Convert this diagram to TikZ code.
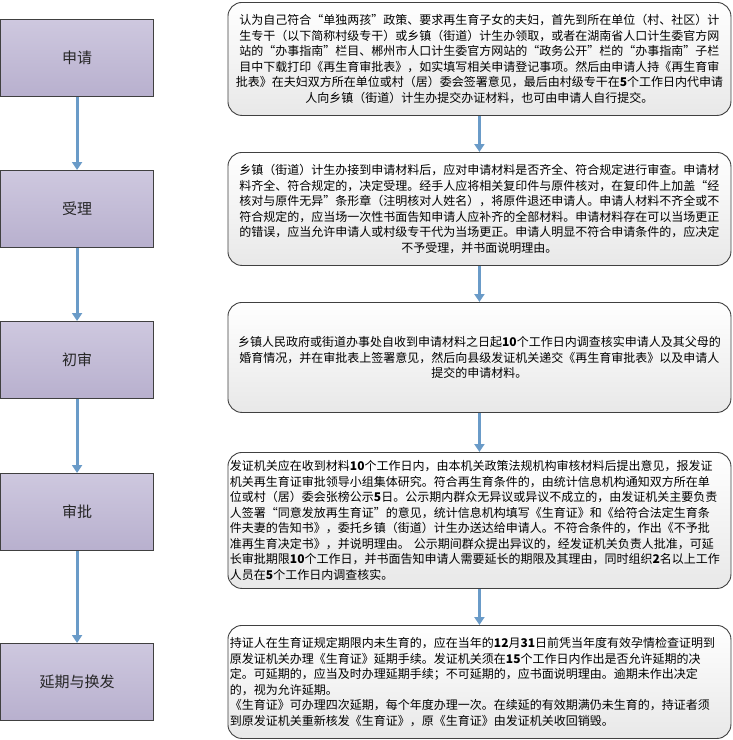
\documentclass[tikz,border=0pt]{standalone}
\usepackage{fontspec}
\newfontfamily\cjk{Noto Sans CJK SC}
\usetikzlibrary{arrows.meta}
\definecolor{arrblue}{RGB}{106,155,200}
\definecolor{lavtop}{RGB}{206,200,223}
\definecolor{lavbot}{RGB}{184,176,206}
\definecolor{bordergray}{RGB}{64,64,64}
\tikzset{
 lbox/.style={draw=bordergray, line width=0.8pt, top color=lavtop, bottom color=lavbot,
   minimum width=152.5pt, minimum height=77pt, inner sep=0pt, anchor=north west,
   font=\cjk\fontsize{15}{18}\selectfont, text=black!85},
 rbox/.style={draw=bordergray, line width=0.9pt, rounded corners=14pt, top color=white,
   bottom color=black!9, minimum width=503pt, inner xsep=2pt, inner ysep=0pt,
   text width=499pt, anchor=north west, font=\cjk\fontsize{12}{15.5}\selectfont, text=black},
 flow/.style={draw=arrblue, line width=3pt, -{Triangle[width=10pt,length=8pt]}}
}
\begin{document}
\begin{tikzpicture}[x=1pt,y=-1pt]
\useasboundingbox (0,0) rectangle (733,740);
% left column
\node[lbox] (l1) at (0.4,19) {申请};
\node[lbox] (l2) at (0.4,170) {受理};
\node[lbox] (l3) at (0.4,321) {初审};
\node[lbox] (l4) at (0.4,473) {审批};
\node[lbox] (l5) at (0.4,643) {延期与换发};
\draw[flow] (l1.south) -- (l2.north);
\draw[flow] (l2.south) -- (l3.north);
\draw[flow] (l3.south) -- (l4.north);
\draw[flow] (l4.south) -- (l5.north);
% right column
\node[rbox, align=center, minimum height=113pt] (r1) at (227.5,2) {认为自己符合“单独两孩”政策、要求再生育子女的夫妇，首先到所在单位（村、社区）计\\
生专干（以下简称村级专干）或乡镇（街道）计生办领取，或者在湖南省人口计生委官方网\\
站的“办事指南”栏目、郴州市人口计生委官方网站的“政务公开”栏的“办事指南”子栏\\
目中下载打印《再生育审批表》，如实填写相关申请登记事项。然后由申请人持《再生育审\\
批表》在夫妇双方所在单位或村（居）委会签署意见，最后由村级专干在\textbf{5}个工作日内代申请\\
人向乡镇（街道）计生办提交办证材料，也可由申请人自行提交。};
\node[rbox, align=center, minimum height=113pt] (r2) at (227.5,152) {乡镇（街道）计生办接到申请材料后，应对申请材料是否齐全、符合规定进行审查。申请材\\
料齐全、符合规定的，决定受理。经手人应将相关复印件与原件核对，在复印件上加盖“经\\
核对与原件无异”条形章（注明核对人姓名），将原件退还申请人。申请人材料不齐全或不\\
符合规定的，应当场一次性书面告知申请人应补齐的全部材料。申请材料存在可以当场更正\\
的错误，应当允许申请人或村级专干代为当场更正。申请人明显不符合申请条件的，应决定\\
不予受理，并书面说明理由。};
\node[rbox, align=center, minimum height=110pt] (r3) at (227.5,302) {乡镇人民政府或街道办事处自收到申请材料之日起\textbf{10}个工作日内调查核实申请人及其父母的\\
婚育情况，并在审批表上签署意见，然后向县级发证机关递交《再生育审批表》以及申请人\\
提交的申请材料。};
\node[rbox, align=left, minimum height=136pt] (r4) at (227.5,452) {发证机关应在收到材料\textbf{10}个工作日内，由本机关政策法规机构审核材料后提出意见，报发证\\
机关再生育证审批领导小组集体研究。符合再生育条件的，由统计信息机构通知双方所在单\\
位或村（居）委会张榜公示\textbf{5}日。公示期内群众无异议或异议不成立的，由发证机关主要负责\\
人签署“同意发放再生育证”的意见，统计信息机构填写《生育证》和《给符合法定生育条\\
件夫妻的告知书》，委托乡镇（街道）计生办送达给申请人。不符合条件的，作出《不予批\\
准再生育决定书》，并说明理由。\ 公示期间群众提出异议的，经发证机关负责人批准，可延\\
长审批期限\textbf{10}个工作日，并书面告知申请人需要延长的期限及其理由，同时组织\textbf{2}名以上工作\\
人员在\textbf{5}个工作日内调查核实。};
\node[rbox, align=left, minimum height=113pt] (r5) at (227.5,625) {持证人在生育证规定期限内未生育的，应在当年的\textbf{12}月\textbf{31}日前凭当年度有效孕情检查证明到\\
原发证机关办理《生育证》延期手续。发证机关须在\textbf{15}个工作日内作出是否允许延期的决\\
定。可延期的，应当及时办理延期手续；不可延期的，应书面说明理由。逾期未作出决定\\
的，视为允许延期。\\
《生育证》可办理四次延期，每个年度办理一次。在续延的有效期满仍未生育的，持证者须\\
到原发证机关重新核发《生育证》，原《生育证》由发证机关收回销毁。};
\draw[flow] (r1.south) -- (r2.north);
\draw[flow] (r2.south) -- (r3.north);
\draw[flow] (r3.south) -- (r4.north);
\draw[flow] (r4.south) -- (r5.north);
\end{tikzpicture}
\end{document}
